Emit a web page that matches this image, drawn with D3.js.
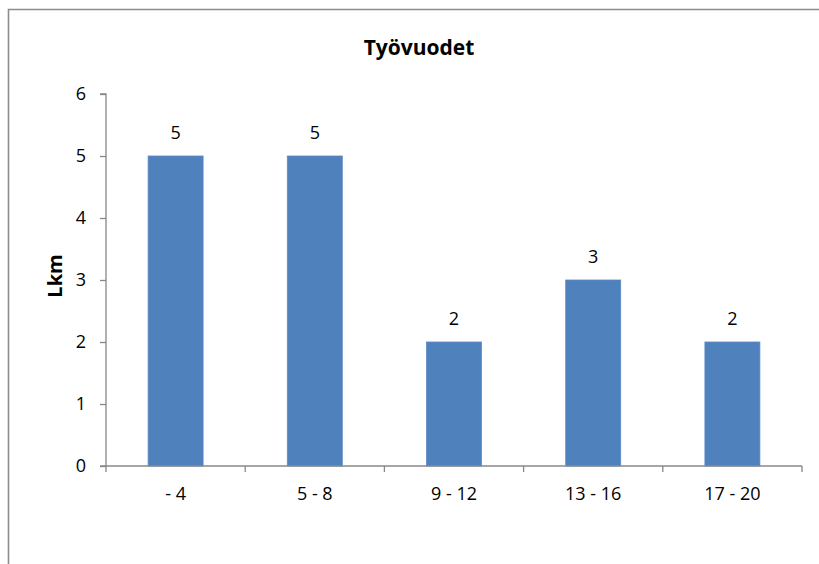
<!DOCTYPE html>
<html><head><meta charset="utf-8">
<script src="https://cdn.jsdelivr.net/npm/d3@7"></script>
<style>body{margin:0;background:#fff}svg{display:block}text{font-family:"Open Sans","Liberation Sans",sans-serif}</style>
</head><body>
<script>
const categories = ["- 4", "5 - 8", "9 - 12", "13 - 16", "17 - 20"];
const values = [5, 5, 2, 3, 2];
const yTicks = [0, 1, 2, 3, 4, 5, 6];
const title = "Työvuodet";
const yTitle = "Lkm";

const W = 819, H = 564;
const svg = d3.select("body").append("svg").attr("width", W).attr("height", H);

// chart frame
svg.append("path").attr("d", "M8.5,600 L8.5,9.5 L830,9.5")
  .attr("fill", "none").attr("stroke", "#8c8c8c").attr("stroke-width", 1.6);

const x0 = 106, x1 = 802, yTop = 94, yBot = 466;
const x = d3.scaleBand().domain(categories).range([x0, x1]).paddingInner(0.605).paddingOuter(0.3025);
const y = d3.scaleLinear().domain([0, 6]).range([yBot, yTop]);

svg.append("g").selectAll("rect").data(values).join("rect")
  .attr("x", (d, i) => x(categories[i]))
  .attr("y", d => y(d))
  .attr("width", x.bandwidth())
  .attr("height", d => y(0) - y(d))
  .attr("fill", "#4f81bd").attr("stroke", "#5b8ac4").attr("stroke-width", 0.8);

const yAxis = svg.append("g").attr("transform", `translate(${x0},0)`)
  .call(d3.axisLeft(y).tickValues(yTicks).tickSize(6).tickPadding(14).tickFormat(d3.format("d")));
yAxis.select(".domain").attr("stroke", "#888").attr("stroke-width", 1.3).attr("d", `M-6,${yTop}H0V${yBot}`);
yAxis.selectAll(".tick line").attr("stroke", "#888").attr("stroke-width", 1.3);
yAxis.selectAll(".tick text").attr("font-size", 18).attr("fill", "#000")
  .attr("font-family", "'Open Sans','Liberation Sans',sans-serif");

const xEdges = d3.range(categories.length + 1).map(i => x0 + i * (x1 - x0) / categories.length);
const xg = svg.append("g");
xg.append("line").attr("x1", x0 - 6).attr("x2", x1).attr("y1", yBot).attr("y2", yBot)
  .attr("stroke", "#888").attr("stroke-width", 1.3);
xg.selectAll("line.tk").data(xEdges).join("line").attr("class", "tk")
  .attr("x1", d => d).attr("x2", d => d).attr("y1", yBot).attr("y2", yBot + 6)
  .attr("stroke", "#888").attr("stroke-width", 1.3);
xg.selectAll("text").data(categories).join("text")
  .attr("x", d => x(d) + x.bandwidth() / 2).attr("y", 500)
  .attr("text-anchor", "middle").attr("font-size", 18).attr("fill", "#000").text(d => d);

svg.append("g").selectAll("text").data(values).join("text")
  .attr("x", (d, i) => x(categories[i]) + x.bandwidth() / 2)
  .attr("y", d => y(d) - 17)
  .attr("text-anchor", "middle").attr("font-size", 18).attr("fill", "#000").text(d => d);

svg.append("text").attr("x", 419).attr("y", 55).attr("text-anchor", "middle")
  .attr("font-size", 21).attr("font-weight", "bold").text(title);

svg.append("text").attr("transform", "translate(62,276) rotate(-90)").attr("text-anchor", "middle")
  .attr("font-size", 20).attr("font-weight", "bold").text(yTitle);
</script>
</body></html>
